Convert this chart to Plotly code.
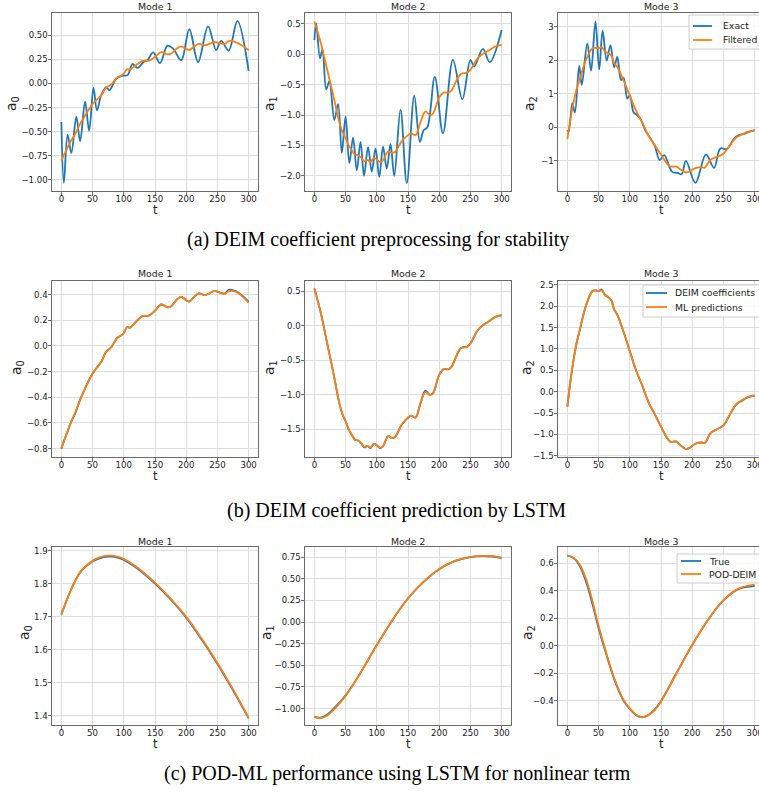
import plotly.graph_objects as go
from plotly.subplots import make_subplots

W, H = 759, 795
BLUE = "#1f77b4"
ORANGE = "#ff7f0e"

# ---------------- Row (a): exact vs filtered ----------------
t_ex1 = [0, 4, 10, 16, 24, 30, 38, 44.5, 51.5, 57, 64, 72, 77, 88, 98, 106, 114, 122, 133, 138,
         147, 158, 170, 179, 192, 205, 219, 235, 248, 256, 268, 282, 300]
exact1 = [-0.40, -1.03, -0.53, -0.72, -0.345, -0.60, -0.19, -0.49, -0.045, -0.28, -0.12, -0.04,
          -0.07, 0.05, 0.08, 0.085, 0.20, 0.16, 0.23, 0.24, 0.32, 0.21, 0.39, 0.36, 0.24, 0.56,
          0.22, 0.59, 0.345, 0.44, 0.34, 0.645, 0.128]

t_ex2 = [0, 3, 9, 13, 19, 24, 32, 38, 44, 50, 56, 62, 68, 74, 79.5, 86, 92, 98, 104, 110, 116,
         122, 128, 138, 148, 160, 169, 175, 181, 193, 206, 222, 237, 250, 256, 270, 281, 300]
exact2 = [0.236, 0.51, -0.066, 0.08, -0.58, -0.44, -1.08, -0.82, -1.62, -1.02, -1.79, -1.37,
          -1.91, -1.44, -2.0, -1.53, -1.93, -1.55, -2.02, -1.52, -1.88, -1.48, -2.0, -0.91,
          -2.12, -0.68, -1.44, -1.25, -1.20, -0.37, -1.30, -0.093, -0.74, -0.093, -0.20, 0.09,
          -0.13, 0.40]

t_ex3 = [0, 2, 8, 12, 19, 23, 32, 38, 45, 51, 56.5, 63, 69, 75, 80, 86, 90, 96, 100, 106, 112,
         118, 125, 132, 140, 148, 155, 168, 177, 183, 190, 205, 222, 235, 245, 255, 270, 285, 300]
exact3 = [-0.085, -0.13, 0.73, 0.44, 1.83, 1.26, 2.50, 1.69, 3.16, 1.73, 2.88, 1.99, 2.45, 1.79,
          2.10, 1.41, 1.48, 0.86, 0.96, 0.45, 0.36, 0.22, -0.10, -0.30, -0.55, -0.98, -0.83,
          -1.33, -1.36, -1.40, -1.00, -1.66, -0.81, -1.21, -0.63, -0.65, -0.28, -0.18, -0.085]

# filtered = DEIM coefficients
t_f1 = [0, 5, 10, 15, 22, 30, 36, 40, 50, 60, 65, 70, 75, 80, 90, 95, 100, 105, 110, 120, 130,
        140, 150, 160, 170, 175, 185, 192, 200, 205, 212, 220, 230, 237, 245, 255, 262, 268,
        280, 290, 300]
filt1 = [-0.80, -0.73, -0.665, -0.60, -0.527, -0.42, -0.355, -0.31, -0.215, -0.15, -0.115,
         -0.06, -0.03, -0.01, 0.065, 0.078, 0.10, 0.145, 0.142, 0.19, 0.232, 0.235, 0.274,
         0.322, 0.30, 0.305, 0.36, 0.382, 0.356, 0.345, 0.377, 0.408, 0.395, 0.408, 0.428,
         0.413, 0.408, 0.437, 0.425, 0.39, 0.345]
ml1 = [-0.80, -0.73, -0.665, -0.60, -0.52, -0.42, -0.352, -0.31, -0.215, -0.15, -0.115,
       -0.06, -0.03, -0.01, 0.065, 0.078, 0.10, 0.145, 0.142, 0.19, 0.232, 0.235, 0.274,
       0.322, 0.30, 0.305, 0.36, 0.382, 0.356, 0.345, 0.377, 0.408, 0.395, 0.408, 0.428,
       0.413, 0.405, 0.425, 0.42, 0.385, 0.335]

t_f2 = [0, 10, 20, 30, 40, 45, 50, 55, 60, 65, 70, 75, 80, 85, 90, 95, 100, 105, 110, 118, 125,
        130, 140, 150, 155, 162, 170, 178, 185, 190, 200, 207, 215, 220, 230, 235, 245, 250,
        260, 265, 270, 280, 290, 300]
filt2 = [0.54, 0.20, -0.23, -0.66, -1.12, -1.28, -1.38, -1.50, -1.58, -1.65, -1.66, -1.70,
         -1.76, -1.74, -1.77, -1.71, -1.73, -1.77, -1.745, -1.60, -1.625, -1.60, -1.43, -1.33,
         -1.30, -1.33, -1.12, -0.94, -1.0, -0.975, -0.71, -0.63, -0.63, -0.59, -0.385, -0.32,
         -0.30, -0.255, -0.087, -0.03, 0.01, 0.067, 0.13, 0.154]
ml2 = [0.54, 0.20, -0.23, -0.66, -1.12, -1.28, -1.38, -1.50, -1.58, -1.65, -1.66, -1.70,
       -1.75, -1.74, -1.76, -1.71, -1.73, -1.765, -1.745, -1.60, -1.625, -1.60, -1.43, -1.33,
       -1.30, -1.33, -1.12, -0.96, -1.0, -0.98, -0.71, -0.625, -0.625, -0.59, -0.385, -0.32,
       -0.305, -0.255, -0.087, -0.03, 0.01, 0.067, 0.13, 0.15]

t_f3 = [0, 5, 10, 15, 20, 30, 40, 45, 50, 55, 60, 70, 75, 80, 90, 100, 110, 120, 130, 140, 150,
        160, 165, 175, 180, 190, 195, 205, 215, 220, 230, 240, 250, 260, 270, 280, 290, 300]
filt3 = [-0.35, 0.25, 0.75, 1.15, 1.45, 2.02, 2.35, 2.37, 2.36, 2.39, 2.27, 2.15, 1.92, 1.80,
         1.40, 0.95, 0.50, 0.14, -0.25, -0.53, -0.82, -1.09, -1.17, -1.17, -1.24, -1.345,
         -1.32, -1.22, -1.19, -1.205, -0.96, -0.88, -0.79, -0.545, -0.31, -0.21, -0.13, -0.10]
ml3 = [-0.35, 0.25, 0.75, 1.15, 1.45, 2.02, 2.35, 2.37, 2.36, 2.37, 2.27, 2.15, 1.92, 1.80,
       1.40, 0.95, 0.50, 0.14, -0.25, -0.53, -0.82, -1.09, -1.17, -1.17, -1.24, -1.345,
       -1.32, -1.22, -1.19, -1.205, -0.96, -0.88, -0.79, -0.545, -0.30, -0.20, -0.12, -0.09]

# ---------------- Row (c): True vs POD-DEIM ----------------
t_c1 = [0, 10, 20, 30, 40, 50, 60, 70, 80, 90, 100, 120, 150, 175, 200, 225, 250, 275, 300]
true1 = [1.707, 1.757, 1.800, 1.833, 1.853, 1.867, 1.876, 1.881, 1.882, 1.879, 1.872, 1.848,
         1.800, 1.752, 1.697, 1.630, 1.557, 1.477, 1.392]
pod1 = [1.707, 1.757, 1.801, 1.835, 1.855, 1.869, 1.879, 1.884, 1.885, 1.882, 1.875, 1.851,
        1.803, 1.755, 1.700, 1.633, 1.560, 1.480, 1.394]

t_c2 = [0, 10, 20, 30, 40, 50, 60, 75, 100, 125, 150, 175, 200, 225, 250, 270, 285, 300]
true2 = [-1.097, -1.106, -1.072, -1.008, -0.932, -0.848, -0.746, -0.573, -0.266, 0.022, 0.272,
         0.465, 0.612, 0.704, 0.751, 0.762, 0.758, 0.740]
pod2 = [-1.097, -1.110, -1.082, -1.022, -0.942, -0.853, -0.749, -0.575, -0.266, 0.024, 0.275,
        0.468, 0.615, 0.707, 0.754, 0.766, 0.763, 0.746]

t_c3 = [0, 10, 20, 30, 40, 50, 60, 75, 90, 100, 110, 120, 130, 140, 150, 175, 200, 225, 250,
        275, 300]
true3 = [0.656, 0.638, 0.578, 0.465, 0.308, 0.128, -0.028, -0.243, -0.400, -0.460, -0.505,
         -0.520, -0.502, -0.463, -0.402, -0.197, 0.005, 0.185, 0.330, 0.414, 0.435]
pod3 = [0.656, 0.641, 0.590, 0.485, 0.330, 0.145, -0.015, -0.235, -0.395, -0.456, -0.502,
        -0.521, -0.505, -0.468, -0.407, -0.200, 0.005, 0.187, 0.333, 0.418, 0.445]

# ---------------- tick labels ----------------
x_ticks = [0, 50, 100, 150, 200, 250, 300]
yt_a1 = [-1.0, -0.75, -0.5, -0.25, 0.0, 0.25, 0.5]
yt_a2 = [-2.0, -1.5, -1.0, -0.5, 0.0, 0.5]
yt_a3 = [-1, 0, 1, 2, 3]
yt_b1 = [-0.8, -0.6, -0.4, -0.2, 0.0, 0.2, 0.4]
yt_b2 = [-1.5, -1.0, -0.5, 0.0, 0.5]
yt_b3 = [-1.5, -1.0, -0.5, 0.0, 0.5, 1.0, 1.5, 2.0, 2.5]
yt_c1 = [1.4, 1.5, 1.6, 1.7, 1.8, 1.9]
yt_c2 = [-1.0, -0.75, -0.5, -0.25, 0.0, 0.25, 0.5, 0.75]
yt_c3 = [-0.4, -0.2, 0.0, 0.2, 0.4, 0.6]

captions = ["(a) DEIM coefficient preprocessing for stability",
            "(b) DEIM coefficient prediction by LSTM",
            "(c) POD-ML performance using LSTM for nonlinear term"]
legend_names = [("Exact", "Filtered"), ("DEIM coefficients", "ML predictions"),
                ("True", "POD-DEIM")]

panels = [
    [(t_ex1, exact1, t_f1, filt1), (t_ex2, exact2, t_f2, filt2), (t_ex3, exact3, t_f3, filt3)],
    [(t_f1, filt1, t_f1, ml1), (t_f2, filt2, t_f2, ml2), (t_f3, filt3, t_f3, ml3)],
    [(t_c1, true1, t_c1, pod1), (t_c2, true2, t_c2, pod2), (t_c3, true3, t_c3, pod3)],
]
yticks = [[yt_a1, yt_a2, yt_a3], [yt_b1, yt_b2, yt_b3], [yt_c1, yt_c2, yt_c3]]
yfmt = [[".2f", ".1f", "d"], [".1f", ".1f", ".1f"], [".1f", ".2f", ".1f"]]
yranges = [[[-1.114, 0.728], [-2.25, 0.68], [-1.90, 3.41]],
           [[-0.865, 0.505], [-1.90, 0.65], [-1.53, 2.59]],
           [[1.372, 1.911], [-1.19, 0.868], [-0.577, 0.719]]]

col_px = [(52, 258), (305, 511), (558, 759)]
row_px = [(13, 191), (281, 457), (547, 725)]
xranges = [[-15, 315], [-15, 315], [-15, 307]]
title_y = [7, 274, 541]
xlab_y = [210, 476, 744]
ylab_x = [[12, 270, 530], [17, 270, 527], [25, 267, 528]]
ylab_y = [104, 368, 633]
cap_xy = [(378, 240), (396, 510), (397, 773)]
# legend box: (x0, y0, y1, line_x0, line_x1, text_x, entry1_y, entry2_y)
legend_px = [(689, 15, 49, 693, 712, 721, 26, 40),
             (643, 285, 317, 646, 667, 673, 293, 307),
             (677, 554, 583, 681, 701, 707, 561, 574)]


def px(x):
    return x / W


def py(y):
    return 1 - y / H


fig = make_subplots(rows=3, cols=3)
AX = "#6a6a6a"
GRID = "#dedede"
TXT = "#222222"
TICKF = dict(family="DejaVu Sans", size=8.6, color=TXT)

annotations = []
shapes = []
for r in range(3):
    for c in range(3):
        tx, ty, tf, yf = panels[r][c]
        fig.add_trace(go.Scatter(x=tx, y=ty, mode="lines", line=dict(color=BLUE, width=1.8,
                                 shape="spline", smoothing=1.0),
                                 name=legend_names[r][0], showlegend=False),
                      row=r + 1, col=c + 1)
        fig.add_trace(go.Scatter(x=tf, y=yf, mode="lines", line=dict(color=ORANGE, width=1.8,
                                 shape="spline", smoothing=1.0),
                                 name=legend_names[r][1], showlegend=False),
                      row=r + 1, col=c + 1)
        x0, x1 = col_px[c]
        y0, y1 = row_px[r]
        fig.update_xaxes(domain=[px(x0), px(x1)], range=xranges[c], tickvals=x_ticks,
                         showgrid=True, gridcolor=GRID, gridwidth=1, zeroline=False,
                         showline=True, mirror=True, linecolor=AX, linewidth=1,
                         ticks="outside", ticklen=3.5, tickcolor=AX, tickfont=TICKF,
                         ticklabelstandoff=-4, ticklabeloverflow="allow",
                         automargin=False, row=r + 1, col=c + 1)
        fig.update_yaxes(domain=[py(y1), py(y0)], range=yranges[r][c], tickvals=yticks[r][c],
                         tickformat=yfmt[r][c],
                         showgrid=True, gridcolor=GRID, gridwidth=1, zeroline=False,
                         showline=True, mirror=True, linecolor=AX, linewidth=1,
                         ticks="outside", ticklen=3.5, tickcolor=AX, tickfont=TICKF,
                         ticklabelstandoff=-2,
                         automargin=False, row=r + 1, col=c + 1)
        xc = x0 + 103
        annotations.append(dict(text=f"Mode {c + 1}", x=px(xc), y=py(title_y[r]),
                                xref="paper", yref="paper", showarrow=False,
                                xanchor="center", yanchor="middle",
                                font=dict(family="DejaVu Sans", size=9.4, color=TXT)))
        annotations.append(dict(text="t", x=px(xc), y=py(xlab_y[r]), xref="paper",
                                yref="paper", showarrow=False, xanchor="center",
                                yanchor="middle",
                                font=dict(family="DejaVu Sans", size=11.5, color=TXT)))
        annotations.append(dict(text=f"a<sub>{c}</sub>", x=px(ylab_x[r][c]), y=py(ylab_y[r]),
                                xref="paper", yref="paper", showarrow=False, textangle=-90,
                                xanchor="center", yanchor="middle",
                                font=dict(family="DejaVu Sans", size=14, color=TXT)))
    cx, cy = cap_xy[r]
    annotations.append(dict(text=captions[r], x=px(cx), y=py(cy), xref="paper", yref="paper",
                            showarrow=False, xanchor="center", yanchor="middle",
                            font=dict(family="Liberation Serif", size=20, color="black")))

    # legend drawn in the top-right corner of the third panel
    bx0, by0, by1, lx0, lx1, ltx, e1, e2 = legend_px[r]
    shapes.append(dict(type="rect", xref="paper", yref="paper", x0=px(bx0), x1=px(775),
                       y0=py(by1), y1=py(by0), line=dict(color="#cccccc", width=1),
                       fillcolor="rgba(255,255,255,0.85)", layer="above"))
    for ey, col, name in ((e1, BLUE, legend_names[r][0]), (e2, ORANGE, legend_names[r][1])):
        shapes.append(dict(type="line", xref="paper", yref="paper", x0=px(lx0), x1=px(lx1),
                           y0=py(ey), y1=py(ey), line=dict(color=col, width=1.8),
                           layer="above"))
        annotations.append(dict(text=name, x=px(ltx), y=py(ey), xref="paper", yref="paper",
                                showarrow=False, xanchor="left", yanchor="middle",
                                font=dict(family="DejaVu Sans", size=9.3, color=TXT)))

fig.update_layout(width=W, height=H,
                  margin=dict(l=0, r=0, t=0, b=0, autoexpand=False),
                  paper_bgcolor="white", plot_bgcolor="white", showlegend=False,
                  annotations=annotations, shapes=shapes)

fig.write_html("out.html", config={"displayModeBar": False},
               post_script="document.body.style.margin='0px';"
                           "document.body.style.overflow='hidden';")
